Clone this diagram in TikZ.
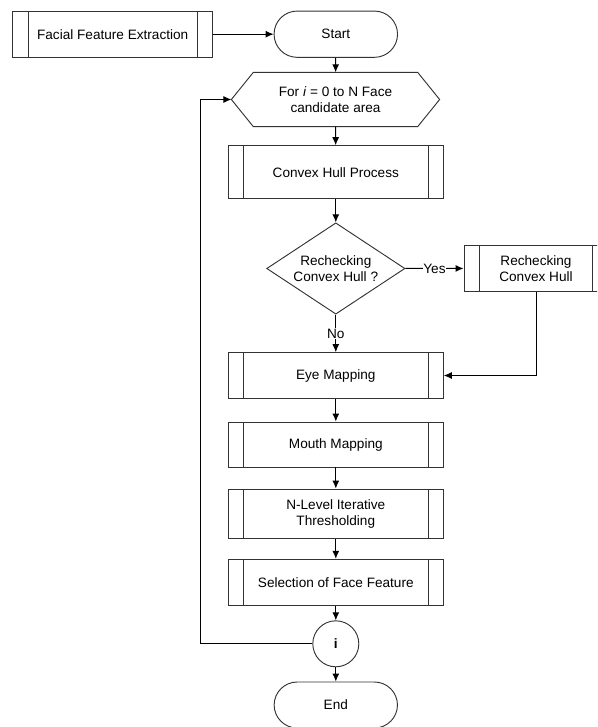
\documentclass[tikz,border=0pt]{standalone}
\usepackage{fontspec}
\setmainfont{Liberation Sans}
\usepackage{tikz}
\usetikzlibrary{arrows.meta,positioning,shapes.geometric,calc}
\tikzset{
	base/.style = {draw=black!80, line width=0.7pt, font=\fontsize{10.2pt}{12.2pt}\selectfont, align=center},
	subproc/.style = {base, rectangle, minimum width=161.25pt, minimum height=34.5pt,
		path picture={
			\draw[black!80, line width=0.7pt] ([xshift=11.5pt]path picture bounding box.north west) -- ([xshift=11.5pt]path picture bounding box.south west);
			\draw[black!80, line width=0.7pt] ([xshift=-11.5pt]path picture bounding box.north east) -- ([xshift=-11.5pt]path picture bounding box.south east);}},
	term/.style = {base, rectangle, rounded corners=17.3pt, minimum width=92.6pt, minimum height=34.7pt},
	loopbox/.style = {font=\fontsize{10.2pt}{12.2pt}\selectfont, align=center, minimum width=156.2pt, minimum height=40.8pt, outer sep=0pt},
	decision/.style = {base, diamond, aspect=1.5, inner sep=0pt, minimum width=103.7pt, minimum height=68.5pt},
	counter/.style = {base, circle, minimum size=34.5pt, inner sep=0pt},
	lbl/.style = {fill=white, inner sep=0.5pt, font=\fontsize{10.2pt}{12.2pt}\selectfont},
	conn/.style = {black, line width=0.7pt, -{Latex[length=6pt,width=5.2pt]}}
}

\begin{document}
\begin{tikzpicture}[x=0.75pt, y=-0.75pt]
\useasboundingbox (0,0) rectangle (597,727);
\clip (0,0) rectangle (597,727);

% top row
\node [subproc, minimum width=150pt, minimum height=34.7pt] (ffe) at (112.7,34.2) {Facial Feature Extraction};
\node [term] (start) at (335.8,34.2) {Start};

% loop head
\node [loopbox] (loop) at (335.5,99.5) {For \textit{i} = 0 to N Face\\candidate area};
\draw [black!80, line width=0.7pt] (loop.west) -- ([xshift=16.5pt]loop.north west) -- ([xshift=-16.5pt]loop.north east)
	-- (loop.east) -- ([xshift=-16.5pt]loop.south east) -- ([xshift=16.5pt]loop.south west) -- cycle;

\node [subproc, minimum width=161.7pt, minimum height=39.75pt] (hull) at (335.8,172.2) {Convex Hull Process};
\node [decision] (check) at (335.8,268.5) {Rechecking\\Convex Hull ?};
\node [subproc, minimum width=108pt, minimum height=34pt] (recheck) at (536,268.4) {Rechecking\\Convex Hull};

\node [subproc, minimum height=34.3pt] (eye) at (335.8,375.5) {Eye Mapping};
\node [subproc, minimum height=33.75pt] (mouth) at (335.8,444.5) {Mouth Mapping};
\node [subproc, minimum height=37pt] (nlevel) at (335.8,513.7) {N-Level Iterative\\Thresholding};
\node [subproc, minimum height=34.5pt] (select) at (335.8,582.3) {Selection of Face Feature};

\node [counter] (inc) at (335.8,643.8) {\textbf{i}};
\node [term, minimum width=92.5pt, minimum height=34.5pt] (end) at (335.8,705) {End};

\coordinate (back) at (200,99.5);

% connectors
\draw [conn] (ffe) -- (start);
\draw [conn] (start) -- (loop);
\draw [conn] (loop) -- (hull);
\draw [conn] (hull) -- (check);
\draw [conn] (check) -- node[lbl]{Yes} (recheck);
\draw [conn] (check) -- node[lbl]{No} (eye);
\draw [conn] (recheck.south) |- (eye.east);
\draw [conn] (eye) -- (mouth);
\draw [conn] (mouth) -- (nlevel);
\draw [conn] (nlevel) -- (select);
\draw [conn] (select) -- (inc);
\draw [conn] (inc) -- (end);
\draw [conn] (inc.west) -| (back) -- (loop.west);
\end{tikzpicture}
\end{document}
